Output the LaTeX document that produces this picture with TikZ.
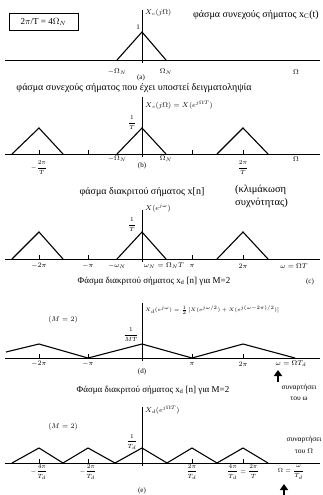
\documentclass[tikz,border=0pt]{standalone}
\usepackage{amsmath,amssymb}
\usepackage{fontspec}
\setmainfont{Liberation Serif}
\usetikzlibrary{arrows.meta}

\tikzset{
  ax/.style={line width=0.6pt},
  spec/.style={line width=1.1pt},
  tck/.style={line width=0.5pt},
  lbl/.style={font=\fontsize{7}{8}\selectfont, inner sep=0pt},
  frc/.style={font=\fontsize{6}{7}\selectfont, inner sep=0pt},
  ttl/.style={font=\fontsize{10}{11}\selectfont, inner sep=0pt},
  sttl/.style={font=\fontsize{9}{10}\selectfont, inner sep=0pt},
  note/.style={font=\fontsize{7.5}{8.5}\selectfont, inner sep=0pt},
  bigarrow/.style={-{Triangle[length=6pt,width=8pt]}, line width=2.4pt}
}

\begin{document}
\begin{tikzpicture}[x=1pt, y=-1pt]
\useasboundingbox (0,0) rectangle (322,495);
%----------------- Panel (a): continuous spectrum -----------------
\node[draw, inner sep=0pt, minimum width=69pt, minimum height=17pt, font=\fontsize{9}{10}\selectfont] (ratio) at (43.5,21.5) {2$\pi$/T = 4$\Omega_N$};
\draw[ax] (5,60) -- (320,60);
\draw[ax] (142,10) -- (142,63);
\draw[spec] (117,60) -- (142,32) -- (166,60);
\node[lbl, anchor=west] (XcA) at (145,13) {$X_c(j\Omega)$};
\node[lbl] (oneA) at (138,27) {1};
\node[lbl] (mONA) at (117,72) {$-\Omega_N$};
\node[lbl] (ONA) at (166,72) {$\Omega_N$};
\node[lbl] (capA) at (141,78) {(a)};
\node[lbl] (OmA) at (296,72) {$\Omega$};
\node[ttl, anchor=west] (ttlA) at (193,15) {φάσμα συνεχούς σήματος x\textsubscript{C}(t)};
%----------------- Panel (b): sampled spectrum -----------------
\node[ttl] (ttlB) at (134,88) {φάσμα συνεχούς σήματος που έχει υποστεί δειγματοληψία};
\draw[ax] (5,154) -- (320,154);
\draw[ax] (142,97) -- (142,157);
\draw[spec] (12,154) -- (39,128) -- (63,154);
\draw[spec] (117,154) -- (142,128) -- (166,154);
\draw[spec] (217,154) -- (243,128) -- (268,154);
\foreach \t in {39,88,192,243} \draw[tck] (\t,154) -- (\t,150);
\node[lbl, anchor=west] (XsB) at (145,105) {$X_s(j\Omega) = X(e^{j\Omega T})$};
\node[frc] (oneB) at (132,123) {$\dfrac{1}{T}$};
\node[frc] (mtwoB) at (39,168) {$-\dfrac{2\pi}{T}$};
\node[lbl] (mONB) at (117,159) {$-\Omega_N$};
\node[lbl] (ONB) at (166,159) {$\Omega_N$};
\node[lbl] (capB) at (142,166) {(b)};
\node[frc] (twoB) at (243,168) {$\dfrac{2\pi}{T}$};
\node[lbl] (OmB) at (296,159) {$\Omega$};
%----------------- Panel (c): discrete spectrum -----------------
\node[ttl] (ttlC) at (142,192) {φάσμα διακριτού σήματος x[n]};
\node[ttl, font=\fontsize{10.5}{11}\selectfont, anchor=west] (scaleC) at (235,190) {(κλιμάκωση};
\node[ttl, font=\fontsize{10.5}{11}\selectfont, anchor=west] (freqC) at (235,203) {συχνότητας)};
\draw[ax] (5,259) -- (320,259);
\draw[ax] (142,210) -- (142,262);
\draw[spec] (12,259) -- (39,232) -- (63,259);
\draw[spec] (117,259) -- (142,232) -- (166,259);
\draw[spec] (217,259) -- (243,232) -- (268,259);
\foreach \t in {39,88,192,243} \draw[tck] (\t,259) -- (\t,255);
\node[lbl, anchor=west] (XC) at (145,208) {$X(e^{j\omega})$};
\node[frc] (oneC) at (132,225) {$\dfrac{1}{T}$};
\node[lbl] (mtwoC) at (39,266) {$-2\pi$};
\node[lbl] (mpiC) at (88,266) {$-\pi$};
\node[lbl] (mwNC) at (117,266) {$-\omega_N$};
\node[lbl] (wNC) at (164,266) {$\omega_N = \Omega_N T$};
\node[lbl] (piC) at (192,266) {$\pi$};
\node[lbl] (twoC) at (243,266) {$2\pi$};
\node[lbl] (wC) at (294,266) {$\omega = \Omega T$};
\node[lbl] (capC) at (310,282) {(c)};
%----------------- Panel (d): decimated, function of omega -----------------
\node[sttl] (ttlD) at (154,281) {Φάσμα διακριτού σήματος x\textsubscript{d} [n] για M=2};
\draw[ax] (5,358) -- (320,358);
\draw[ax] (142,303) -- (142,361);
\draw[spec] (6,352) -- (39,344) -- (88,358) -- (142,344) -- (192,358) -- (243,344) -- (295,358);
\foreach \t in {39,88,192,243} \draw[tck] (\t,358) -- (\t,354);
\node[frc, font=\fontsize{5.5}{6.5}\selectfont, anchor=west] (XdD) at (145,310) {$X_d(e^{j\omega}) = \frac{1}{2}\,[X(e^{j\omega/2}) + X(e^{j(\omega-2\pi)/2})]$};
\node[lbl] (MD) at (63,320) {$(M = 2)$};
\node[frc] (oneD) at (131,335) {$\dfrac{1}{MT}$};
\node[lbl] (mtwoD) at (39,364) {$-2\pi$};
\node[lbl] (mpiD) at (88,364) {$-\pi$};
\node[lbl] (piD) at (192,364) {$\pi$};
\node[lbl] (twoD) at (243,364) {$2\pi$};
\node[lbl] (wD) at (291,364) {$\omega = \Omega T_d$};
\node[lbl] (capD) at (142,372) {(d)};
\coordinate (arrD) at (278,382);
\coordinate (tipD) at (278,370);
\draw[bigarrow] (arrD) -- (tipD);
\node[note] (funcD) at (299,388) {συναρτήσει};
\node[note] (ofwD) at (299,399) {του ω};
%----------------- Panel (e): decimated, function of Omega -----------------
\node[sttl] (ttlE) at (153,390) {Φάσμα διακριτού σήματος x\textsubscript{d} [n] για M=2};
\draw[ax] (5,463) -- (320,463);
\draw[ax] (142,407) -- (142,466);
\draw[spec] (12,463) -- (39,448) -- (63,463) -- (88,448) -- (115,463) -- (142,448) -- (167,463) -- (192,448) -- (217,463) -- (243,448) -- (268,463);
\foreach \t in {39,88,192,243} \draw[tck] (\t,463) -- (\t,459);
\node[lbl, anchor=west] (XdE) at (145,410) {$X_d(e^{j\Omega T})$};
\node[lbl] (ME) at (63,427) {$(M = 2)$};
\node[frc] (oneE) at (132,442) {$\dfrac{1}{T_d}$};
\node[frc] (mfourE) at (39,472) {$-\dfrac{4\pi}{T_d}$};
\node[frc] (mtwoE) at (88,472) {$-\dfrac{2\pi}{T_d}$};
\node[frc] (twoE) at (192,472) {$\dfrac{2\pi}{T_d}$};
\node[frc] (fourE) at (243,472) {$\dfrac{4\pi}{T_d} = \dfrac{2\pi}{T}$};
\node[frc] (OmE) at (291,472) {$\Omega = \dfrac{\omega}{T_d}$};
\node[lbl] (capE) at (142,491) {(e)};
\node[note] (funcE) at (304,440) {συναρτήσει};
\node[note] (ofOE) at (304,451) {του $\Omega$};
\coordinate (arrE) at (284,495);
\coordinate (tipE) at (284,484);
\draw[bigarrow] (arrE) -- (tipE);
\end{tikzpicture}
\end{document}
